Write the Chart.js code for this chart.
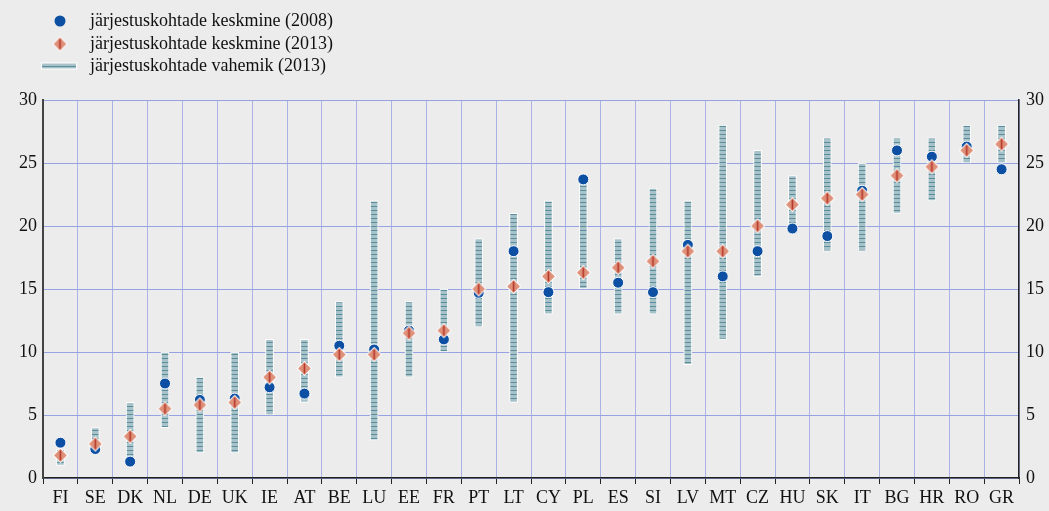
<!DOCTYPE html>
<html>
<head>
<meta charset="utf-8">
<script src="https://cdn.jsdelivr.net/npm/chart.js@4.4.1/dist/chart.umd.min.js"></script>
<style>
  html, body { margin: 0; padding: 0; background: #ececec; }
</style>
</head>
<body>
<canvas id="myChart" width="1049" height="511"></canvas>
<script>
'use strict';

// data
var countries = ['FI', 'SE', 'DK', 'NL', 'DE', 'UK', 'IE', 'AT', 'BE', 'LU', 'EE', 'FR', 'PT', 'LT',
  'CY', 'PL', 'ES', 'SI', 'LV', 'MT', 'CZ', 'HU', 'SK', 'IT', 'BG', 'HR', 'RO', 'GR'];
var mean2008 = [2.8, 2.3, 1.3, 7.5, 6.2, 6.3, 7.2, 6.7, 10.5, 10.2, 11.7, 11.0, 14.7, 18.0,
  14.75, 23.7, 15.5, 14.75, 18.5, 16.0, 18.0, 19.8, 19.2, 22.8, 26.0, 25.5, 26.3, 24.5];
var mean2013 = [1.8, 2.7, 3.3, 5.5, 5.8, 6.0, 8.0, 8.7, 9.8, 9.8, 11.5, 11.7, 15.0, 15.2,
  16.0, 16.3, 16.7, 17.2, 18.0, 18.0, 20.0, 21.7, 22.2, 22.5, 24.0, 24.7, 26.0, 26.5];
var rangeLow = [1, 2, 1.2, 4, 2, 2, 5, 6, 8, 3, 8, 10, 12, 6,
  13, 15, 13, 13, 9, 11, 16, 19.6, 18, 18, 21, 22, 25, 25];
var rangeHigh = [2.3, 4, 6, 10, 8, 10, 11, 11, 14, 22, 14, 15, 19, 21,
  22, 24, 19, 23, 22, 28, 26, 24, 27, 25, 27, 27, 28, 28];
var yTicks = [0, 5, 10, 15, 20, 25, 30];
var legendLabels = ['järjestuskohtade keskmine (2008)', 'järjestuskohtade keskmine (2013)',
  'järjestuskohtade vahemik (2013)'];

var fontFamily = '"Liberation Serif", "Times New Roman", serif';
var gridColor = '#97a2e2';

// striped fill for the range bars
function makeStripes() {
  var c = document.createElement('canvas');
  c.width = 8;
  c.height = 4;
  var g = c.getContext('2d');
  g.fillStyle = '#a8c2ca';
  g.fillRect(0, 0, 8, 4);
  g.fillStyle = '#5b8d9b';
  g.fillRect(0, 2, 8, 1);
  return g.createPattern(c, 'repeat');
}

// diamond marker with the red stroke through it
function makeDiamond() {
  var c = document.createElement('canvas');
  c.width = 17;
  c.height = 17;
  var g = c.getContext('2d');
  function diamond(r) {
    g.beginPath();
    g.moveTo(8.5, 8.5 - r);
    g.lineTo(8.5 + r, 8.5);
    g.lineTo(8.5, 8.5 + r);
    g.lineTo(8.5 - r, 8.5);
    g.closePath();
  }
  g.fillStyle = '#ffffff';
  diamond(7.8);
  g.fill();
  g.fillStyle = '#de9079';
  diamond(6.4);
  g.fill();
  g.fillStyle = '#b7362a';
  g.fillRect(7.7, 3.5, 1.6, 10);
  return c;
}

var stripes = makeStripes();
var diamondImg = makeDiamond();

var legendPlugin = {
  id: 'sideLegend',
  beforeDraw: function(chart) {
    var ctx = chart.ctx;
    ctx.save();
    ctx.fillStyle = '#ececec';
    ctx.fillRect(0, 0, chart.width, chart.height);
    ctx.restore();
  },
  afterDraw: function(chart) {
    var ctx = chart.ctx;
    var rows = [21, 44, 66];
    ctx.save();
    // circle
    ctx.beginPath();
    ctx.arc(60, rows[0], 5.5, 0, Math.PI * 2);
    ctx.fillStyle = '#0c4fa3';
    ctx.fill();
    // diamond
    ctx.drawImage(diamondImg, 60 - 8.5, rows[1] - 8.5);
    // range swatch
    ctx.fillStyle = '#ffffff';
    ctx.fillRect(41, rows[2] - 3.5, 36, 7);
    ctx.fillStyle = '#a8c2ca';
    ctx.fillRect(42, rows[2] - 2.5, 34, 5);
    ctx.fillStyle = '#5b8d9b';
    ctx.fillRect(42, rows[2], 34, 1);
    // texts
    ctx.fillStyle = '#111';
    ctx.font = '18px ' + fontFamily;
    ctx.textBaseline = 'middle';
    for (var i = 0; i < legendLabels.length; i++) {
      ctx.fillText(legendLabels[i], 90, rows[i]);
    }
    ctx.restore();
  }
};

function makeChart() {
  var ranges = [];
  for (var i = 0; i < countries.length; i++) {
    ranges.push([rangeLow[i], rangeHigh[i]]);
  }

  var ctx = document.getElementById('myChart').getContext('2d');
  var chart = new Chart(ctx, {
    type: 'bar',
    data: {
      labels: countries,
      datasets: [{
        label: legendLabels[2],
        data: ranges,
        backgroundColor: stripes,
        borderColor: '#ffffff',
        borderWidth: 1,
        borderSkipped: false,
        barThickness: 8,
        order: 2
      }, {
        type: 'line',
        label: legendLabels[0],
        data: mean2008,
        showLine: false,
        pointRadius: 5.5,
        pointBackgroundColor: '#0c4fa3',
        pointBorderColor: '#ffffff',
        pointBorderWidth: 1,
        order: 1
      }, {
        type: 'line',
        label: legendLabels[1],
        data: mean2013,
        showLine: false,
        pointStyle: diamondImg,
        order: 0
      }]
    },
    options: {
      responsive: false,
      animation: false,
      devicePixelRatio: 1,
      layout: { padding: { top: 100, left: 0, right: 0, bottom: 0 } },
      plugins: {
        legend: { display: false },
        tooltip: { enabled: false }
      },
      scales: {
        x: {
          offset: true,
          grid: {
            offset: true,
            color: '#aab2e6',
            tickColor: '#222',
            tickLength: 6,
            lineWidth: 1
          },
          border: { display: true, color: '#222', width: 1.5 },
          ticks: {
            color: '#111',
            padding: 3,
            font: { family: fontFamily, size: 18 },
            maxRotation: 0,
            autoSkip: false
          },
          afterFit: function(scale) { scale.height = 33; }
        },
        y: {
          position: 'left',
          min: 0,
          max: 30,
          grid: { color: gridColor, drawTicks: false },
          border: { display: true, color: '#444', width: 2 },
          ticks: {
            color: '#111',
            padding: 6,
            font: { family: fontFamily, size: 18 }
          },
          afterBuildTicks: function(scale) {
            scale.ticks = yTicks.map(function(v) { return { value: v }; });
          },
          afterFit: function(scale) { scale.width = 43; }
        },
        y2: {
          position: 'right',
          min: 0,
          max: 30,
          grid: { display: false, drawTicks: false },
          border: { display: true, color: '#222', width: 1.5 },
          ticks: {
            color: '#111',
            padding: 7,
            font: { family: fontFamily, size: 18 }
          },
          afterBuildTicks: function(scale) {
            scale.ticks = yTicks.map(function(v) { return { value: v }; });
          },
          afterFit: function(scale) { scale.width = 30; }
        }
      }
    },
    plugins: [legendPlugin]
  });
  return chart;
}

makeChart();
</script>
</body>
</html>
